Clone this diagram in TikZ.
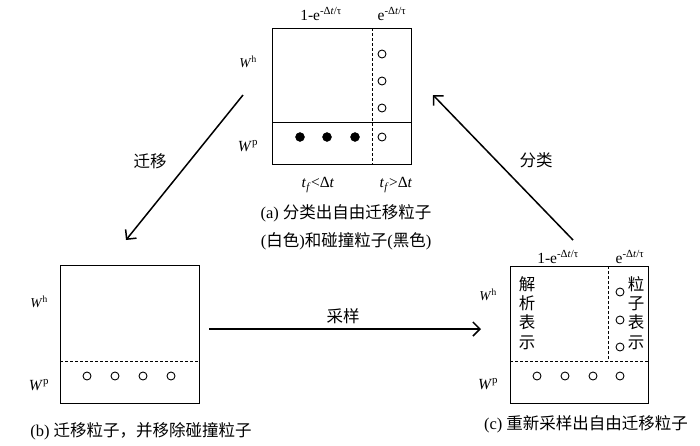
\documentclass[tikz,border=0pt]{standalone}
\usepackage{fontspec}
\setmainfont{Liberation Serif}
\newfontfamily\cjk{Noto Sans CJK SC}
\usetikzlibrary{arrows.meta}
\begin{document}
\begin{tikzpicture}[x=1pt,y=-1pt,
  box/.style={line width=1pt},
  split/.style={line width=1pt,dash pattern=on 3pt off 2pt},
  free/.style={line width=0.9pt},
  coll/.style={fill=black},
  flow/.style={line width=1.5pt,-{Straight Barb[length=7pt,width=14pt,line width=1.5pt]}},
  captxt/.style={inner sep=0pt,font=\fontsize{16.5}{19.3}\selectfont},
  wlbl/.style={inner sep=0pt,font=\fontsize{13.5}{16}\selectfont},
  plbl/.style={inner sep=0pt,font=\fontsize{15.5}{18}\selectfont}]
\useasboundingbox (0,0) rectangle (700,445);
% (a) top box
\draw[box] (272,28) rectangle (411,164);
\draw[box] (272,122) -- (411,122);
\draw[split] (372,28) -- (372,164);
\draw[free] (382,54) circle (4pt);
\draw[free] (382,81) circle (4pt);
\draw[free] (382,108) circle (4pt);
\draw[free] (382,137) circle (4pt);
\draw[coll] (300,137) circle (4.5pt);
\draw[coll] (327,137) circle (4.5pt);
\draw[coll] (355,137) circle (4.5pt);
\node[plbl] (aprob1) at (321,14) {1-e\textsuperscript{-Δ\textit{t}/τ}};
\node[plbl] (aprob2) at (392,14) {e\textsuperscript{-Δ\textit{t}/τ}};
\node[wlbl] (aWh) at (248,62) {\textit{W}\textsuperscript{h}};
\node[plbl] (aWp) at (248,146) {\textit{W}\textsuperscript{p}};
\node[plbl] (atlow) at (318,185) {\textit{t}\textsubscript{\textit{f}}<Δ\textit{t}};
\node[plbl] (athigh) at (396,185) {\textit{t}\textsubscript{\textit{f}}>Δ\textit{t}};
\node[captxt] (acap1) at (346,213) {(a) {\cjk 分类出自由迁移粒子}};
\node[captxt] (acap2) at (346,241) {({\cjk 白色}){\cjk 和碰撞粒子}({\cjk 黑色})};
% (b) left box
\draw[box] (60,265) rectangle (199,403);
\draw[split] (60,361) -- (199,361);
\draw[free] (87,376) circle (4pt);
\draw[free] (115,376) circle (4pt);
\draw[free] (143,376) circle (4pt);
\draw[free] (171,376) circle (4pt);
\node[wlbl] (bWh) at (39,302) {\textit{W}\textsuperscript{h}};
\node[plbl] (bWp) at (39,385) {\textit{W}\textsuperscript{p}};
\node[captxt] (bcap) at (141,431) {(b) {\cjk 迁移粒子，并移除碰撞粒子}};
% (c) right box
\draw[box] (510,266) rectangle (648,403);
\draw[split] (510,361) -- (648,361);
\draw[split] (608,266) -- (608,361);
\draw[free] (620,292) circle (4pt);
\draw[free] (620,320) circle (4pt);
\draw[free] (620,347) circle (4pt);
\draw[free] (537,376) circle (4pt);
\draw[free] (565,376) circle (4pt);
\draw[free] (593,376) circle (4pt);
\draw[free] (620,376) circle (4pt);
\node[plbl] (cprob1) at (558,257) {1-e\textsuperscript{-Δ\textit{t}/τ}};
\node[plbl] (cprob2) at (630,257) {e\textsuperscript{-Δ\textit{t}/τ}};
\node[wlbl] (cWh) at (488,295) {\textit{W}\textsuperscript{h}};
\node[plbl] (cWp) at (488,384) {\textit{W}\textsuperscript{p}};
\node[captxt,align=center] (cana) at (527,313) {\cjk 解\\\cjk 析\\\cjk 表\\\cjk 示};
\node[captxt,align=center] (cpart) at (636,313) {\cjk 粒\\\cjk 子\\\cjk 表\\\cjk 示};
\node[captxt] (ccap) at (586,424) {(c) {\cjk 重新采样出自由迁移粒子}};
% arrows between the steps
\coordinate (mig0) at (243,95);
\coordinate (mig1) at (126,240);
\coordinate (smp0) at (209,329);
\coordinate (smp1) at (481,329);
\coordinate (cls0) at (573,240);
\coordinate (cls1) at (433,95);
\draw[flow] (mig0) -- (mig1);
\draw[flow] (smp0) -- (smp1);
\draw[flow] (cls0) -- (cls1);
\node[captxt] (migtxt) at (150,161) {\cjk 迁移};
\node[captxt] (smptxt) at (343,316) {\cjk 采样};
\node[captxt] (clstxt) at (536,160) {\cjk 分类};
\end{tikzpicture}
\end{document}
